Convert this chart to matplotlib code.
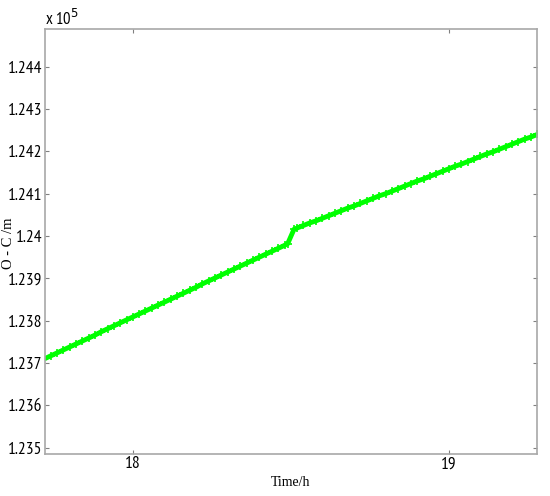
import matplotlib
matplotlib.use("Agg")
import matplotlib.pyplot as plt
from matplotlib.ticker import FuncFormatter

# ---- data ----
t_before = [17.72, 17.74, 17.76, 17.78, 17.80, 17.82, 17.84, 17.86, 17.88, 17.90,
            17.92, 17.94, 17.96, 17.98, 18.00, 18.02, 18.04, 18.06, 18.08, 18.10,
            18.12, 18.14, 18.16, 18.18, 18.20, 18.22, 18.24, 18.26, 18.28, 18.30,
            18.32, 18.34, 18.36, 18.38, 18.40, 18.42, 18.44, 18.46, 18.48, 18.49]
oc_before = [123710, 123717, 123724, 123731, 123738, 123745, 123752, 123759, 123766, 123774,
             123781, 123788, 123795, 123802, 123809, 123816, 123823, 123830, 123837, 123844,
             123851, 123858, 123865, 123872, 123879, 123887, 123894, 123901, 123908, 123915,
             123922, 123929, 123936, 123943, 123950, 123957, 123964, 123971, 123978, 123982]
t_after = [18.51, 18.52, 18.54, 18.56, 18.58, 18.60, 18.62, 18.64, 18.66, 18.68,
           18.70, 18.72, 18.74, 18.76, 18.78, 18.80, 18.82, 18.84, 18.86, 18.88,
           18.90, 18.92, 18.94, 18.96, 18.98, 19.00, 19.02, 19.04, 19.06, 19.08,
           19.10, 19.12, 19.14, 19.16, 19.18, 19.20, 19.22, 19.24, 19.26, 19.28]
oc_after = [124016, 124019, 124025, 124031, 124036, 124042, 124048, 124054, 124060, 124066,
            124071, 124077, 124083, 124089, 124095, 124100, 124106, 124112, 124118, 124124,
            124130, 124135, 124141, 124147, 124153, 124159, 124165, 124170, 124176, 124182,
            124188, 124194, 124199, 124205, 124211, 124217, 124223, 124229, 124234, 124240]
x_ticks = [18, 19]
y_ticks = [123500, 123600, 123700, 123800, 123900, 124000, 124100, 124200, 124300, 124400]

t_all = t_before + t_after
oc_all = oc_before + oc_after

narrow = ['PT Sans Narrow', 'DejaVu Sans']
serif = ['Liberation Serif', 'DejaVu Serif']

fig = plt.figure(figsize=(5.5, 4.96), dpi=100)
ax = fig.add_axes([45/550, 1-453.7/496, (537-45)/550, (453.7-29)/496])

ax.plot(t_all, oc_all, color='#00ff00', lw=3.5, marker='+', ms=5.5, mew=1.2)

ax.set_xlim(17.722, 19.279)
ax.set_ylim(123486, 124489)
ax.set_xticks(x_ticks)
ax.set_yticks(y_ticks)
ax.yaxis.set_major_formatter(FuncFormatter(lambda v, p: '%g' % round(v / 1e5, 4)))
ax.tick_params(direction='in', length=3, color='#808080', top=True, right=True,
               labelsize=12.5, pad=2)
for lab in ax.get_xticklabels() + ax.get_yticklabels():
    lab.set_family(narrow)
for s in ax.spines.values():
    s.set_color('#a8a8a8')
    s.set_linewidth(1.2)

fig.text(45/550, 1-19/496, r'x 10$^5$', family=narrow, fontsize=12, ha='left', va='center')
fig.text(291/550, 1-482/496, 'Time/h', family=serif, fontsize=10, ha='center', va='center')
fig.text(9/550, 1-243/496, 'O - C /m', family=serif, fontsize=10.5, ha='center', va='center',
         rotation=90)

fig.savefig('out.png', dpi=100)
